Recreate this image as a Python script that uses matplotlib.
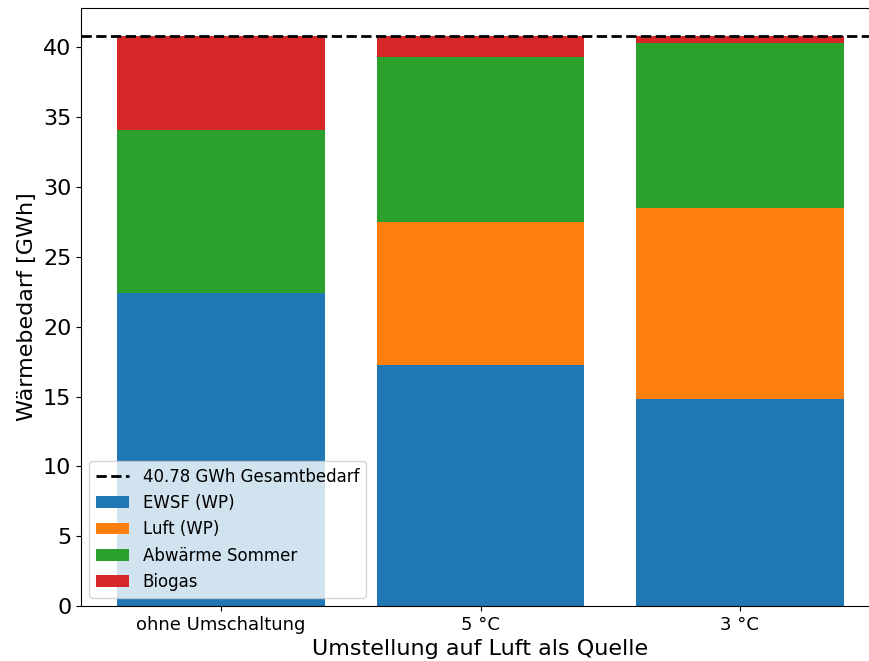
import numpy as np
import matplotlib
matplotlib.use("Agg")
import matplotlib.pyplot as plt

# data (GWh)
szenarien = ['ohne Umschaltung', '5 °C', '3 °C']
ewsf = [22.4, 17.25, 14.8]
luft = [0.0, 10.23, 13.68]
abwaerme = [11.66, 11.8, 11.81]
gesamt = 40.78
biogas = [gesamt - (a + b + c) for a, b, c in zip(ewsf, luft, abwaerme)]

fig = plt.figure(figsize=(8.7, 6.61), dpi=100)
ax = fig.add_axes([81/870, 55/661, 799/870, 598/661])

x = np.arange(len(szenarien))
ax.axhline(gesamt, color='k', ls='--', lw=2, label='%.2f GWh Gesamtbedarf' % gesamt)
bottom = np.zeros(len(szenarien))
for werte, name in [(ewsf, 'EWSF (WP)'), (luft, 'Luft (WP)'),
                    (abwaerme, 'Abwärme Sommer'), (biogas, 'Biogas')]:
    ax.bar(x, werte, bottom=bottom, width=0.8, label=name)
    bottom += np.array(werte)

ax.set_ylim(0, gesamt*1.05)
ax.set_xlim(-0.54, 2.54)
ax.set_xticks(x)
ax.set_xticklabels(szenarien, fontsize=13)
ax.tick_params(axis='y', labelsize=16)
ax.set_ylabel('Wärmebedarf [GWh]', fontsize=16)
ax.set_xlabel('Umstellung auf Luft als Quelle', fontsize=16)
ax.legend(loc='lower left', fontsize=12)

fig.savefig('out.png')
